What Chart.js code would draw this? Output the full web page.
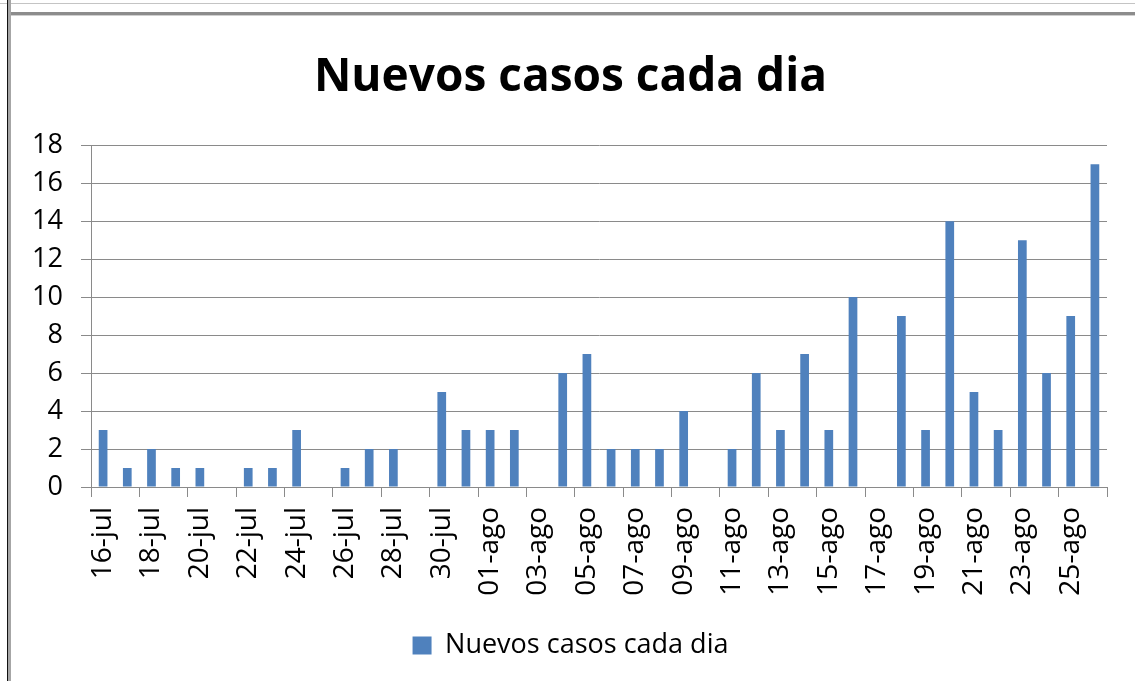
<!DOCTYPE html>
<html>
<head>
<meta charset="utf-8">
<script src="https://cdn.jsdelivr.net/npm/chart.js@4.4.0/dist/chart.umd.min.js"></script>
<style>
  html, body { margin: 0; padding: 0; background: #fff; }
  #wrap { position: relative; width: 1135px; height: 681px; overflow: hidden; }
  #myChart { position: absolute; left: 0; top: 0; }
  .line { position: absolute; }
</style>
</head>
<body>
<div id="wrap">
  <canvas id="myChart" width="1135" height="681"></canvas>
  <!-- frame of the sheet around the chart -->
  <div class="line" style="left:0;top:3px;width:1135px;height:1px;background:#c4c4c4"></div>
  <div class="line" style="left:8px;top:12px;width:1127px;height:3px;background:#8c8c8c"></div>
  <div class="line" style="left:8px;top:15px;width:1127px;height:1px;background:#cfcfcf"></div>
  <div class="line" style="left:7px;top:0;width:1px;height:681px;background:#111"></div>
  <div class="line" style="left:8px;top:0;width:3px;height:681px;background:#a6a6a6"></div>
</div>
<script>
// data
const days = [
  '16-jul','17-jul','18-jul','19-jul','20-jul','21-jul','22-jul','23-jul','24-jul','25-jul',
  '26-jul','27-jul','28-jul','29-jul','30-jul','31-jul','01-ago','02-ago','03-ago','04-ago',
  '05-ago','06-ago','07-ago','08-ago','09-ago','10-ago','11-ago','12-ago','13-ago','14-ago',
  '15-ago','16-ago','17-ago','18-ago','19-ago','20-ago','21-ago','22-ago','23-ago','24-ago',
  '25-ago','26-ago'
];
const newCases = [
  3, 1, 2, 1, 1, 0, 1, 1, 3, 0,
  1, 2, 2, 0, 5, 3, 3, 3, 0, 6,
  7, 2, 2, 2, 4, 0, 2, 6, 3, 7,
  3, 10, 0, 9, 3, 14, 5, 3, 13, 6,
  9, 17
];
const yTicks = [0, 2, 4, 6, 8, 10, 12, 14, 16, 18];

const gridGray = '#8a8a8a';
const font = "'Open Sans', 'DejaVu Sans', sans-serif";

const ctx = document.getElementById('myChart').getContext('2d');
const myChart = new Chart(ctx, {
  type: 'bar',
  data: {
    labels: days,
    datasets: [{
      label: 'Nuevos casos cada dia',
      data: newCases,
      backgroundColor: '#4f81bd',
      borderWidth: 0,
      barPercentage: 0.36,
      categoryPercentage: 1
    }]
  },
  options: {
    responsive: false,
    animation: false,
    layout: { padding: { left: 34, right: 28, top: 50, bottom: 12 } },
    plugins: {
      title: {
        display: true,
        text: 'Nuevos casos cada dia',
        color: '#000',
        font: { family: font, size: 46, weight: 'bold', lineHeight: 1.2 },
        padding: { top: 0, bottom: 40 }
      },
      legend: {
        position: 'bottom',
        labels: {
          color: '#000',
          font: { family: font, size: 27 },
          boxWidth: 19,
          boxHeight: 18,
          padding: 10
        }
      },
      tooltip: { enabled: false }
    },
    scales: {
      x: {
        offset: true,
        afterFit: (axis) => {
          axis.height = 135;
          axis.paddingLeft = 0;
          axis.paddingRight = 0;
        },
        grid: {
          offset: true,
          drawOnChartArea: false,
          tickLength: 10,
          // tick marks only every second day
          color: (c) => (c.index === undefined || c.index % 2 === 0) ? gridGray : 'rgba(0,0,0,0)'
        },
        border: { color: gridGray },
        ticks: {
          autoSkip: false,
          minRotation: 90,
          maxRotation: 90,
          padding: 10,
          color: '#000',
          font: { family: font, size: 28 },
          callback: function(val, i) { return i % 2 === 0 ? days[i] : ''; }
        }
      },
      y: {
        min: 0,
        max: 18,
        afterBuildTicks: (axis) => { axis.ticks = yTicks.map(v => ({ value: v })); },
        afterFit: (axis) => { axis.width = 57; },
        grid: { color: gridGray, tickLength: 10 },
        border: { color: gridGray },
        ticks: {
          padding: 18,
          color: '#000',
          font: { family: font, size: 27 }
        }
      }
    }
  }
});
</script>
</body>
</html>
